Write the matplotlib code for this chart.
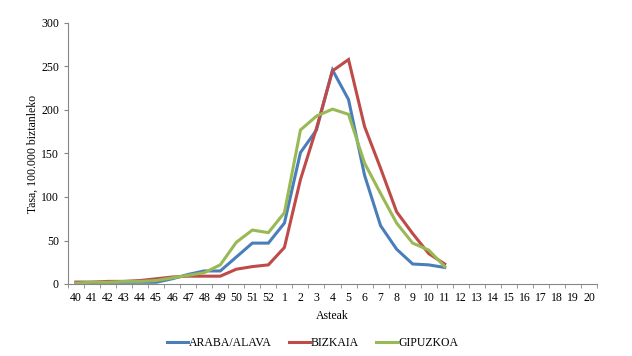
import numpy as np
import matplotlib.pyplot as plt

plt.rcParams['font.family'] = ['Liberation Serif', 'DejaVu Serif']

# weeks 40..52 then 1..20
weeks = [str(w) for w in range(40, 53)] + [str(w) for w in range(1, 21)]

araba = [2, 2, 2, 2, 2, 2, 6, 11, 15, 15, 31, 47, 47, 70,
         151, 177, 246, 212, 125, 67, 40, 23, 22, 19]
bizkaia = [2, 2, 3, 3, 4, 6, 8, 9, 9, 9, 17, 20, 22, 42,
           120, 179, 245, 258, 181, 133, 83, 58, 35, 23]
gipuzkoa = [1, 2, 2, 3, 3, 4, 7, 10, 13, 22, 48, 62, 59, 82,
            177, 193, 201, 195, 139, 104, 70, 47, 39, 20]

series = [('ARABA/ALAVA', araba, '#4a7ebb'),
          ('BIZKAIA', bizkaia, '#be4b48'),
          ('GIPUZKOA', gipuzkoa, '#98b954')]

fs = 8.5

fig = plt.figure(figsize=(6.32, 3.56), dpi=100)
ax = fig.add_axes([68/632, 1-284/356, (597-68)/632, (284-23)/356])

for name, vals, col in series:
    ax.plot(np.arange(len(vals)), vals, color=col, lw=2.2, label=name,
            solid_joinstyle='miter')

ax.set_xlim(-0.5, len(weeks)-0.5)
ax.set_ylim(0, 300)
ax.set_yticks(np.arange(0, 301, 50))
ax.set_xticks(np.arange(len(weeks)))
ax.set_xticklabels(weeks)
ax.set_xticks(np.arange(len(weeks)+1)-0.5, minor=True)
ax.tick_params(axis='x', which='major', length=0, labelsize=fs, pad=6)
ax.tick_params(axis='x', which='minor', length=3, color='#868686')
ax.tick_params(axis='y', length=3, color='#868686', labelsize=fs)

for s in ['top', 'right']:
    ax.spines[s].set_visible(False)
for s in ['left', 'bottom']:
    ax.spines[s].set_color('#868686')

ax.set_xlabel('Asteak', fontsize=fs, labelpad=4)
ax.set_ylabel('Tasa, 100.000 biztanleko', fontsize=fs, labelpad=2)

ax.legend(loc='center', bbox_to_anchor=(0.462, -0.225), ncol=3, frameon=False,
          fontsize=fs, handlelength=1.8, columnspacing=1.4, handletextpad=0.1)

fig.savefig('out.png', dpi=100)
